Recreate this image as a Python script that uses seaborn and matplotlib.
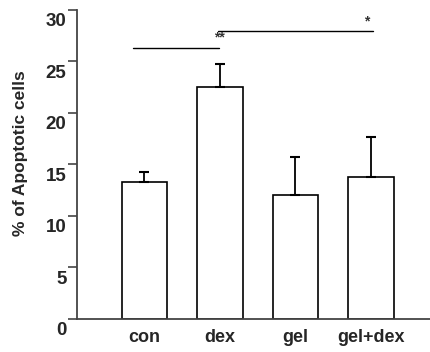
import matplotlib
matplotlib.use("Agg")
import matplotlib.pyplot as plt
import matplotlib.transforms as mtransforms
import seaborn as sns
import pandas as pd

# Data
groups = ["con", "dex", "gel", "gel+dex"]
means = [13.3, 22.5, 12.0, 13.8]
errs = [1.0, 2.2, 3.7, 3.9]

# significance brackets: (from, to, height, label, label x)
sig_lines = [(-0.15, 0.99, 26.3, "**", 0.99), (0.97, 3.03, 27.9, "*", 2.94)]

sns.set_style("white")
plt.rcParams["font.family"] = ["Liberation Sans", "DejaVu Sans"]

df = pd.DataFrame({"group": groups, "pct": means})

fig = plt.figure(figsize=(4.3, 3.52), dpi=100)
ax = fig.add_axes([0.179, 0.094, 0.821, 0.878])

sns.barplot(data=df, x="group", y="pct", color="white", edgecolor="black",
            linewidth=1.2, width=0.6, errorbar=None, ax=ax)
# upper error bars only
ax.errorbar(range(len(groups)), means, yerr=[[0] * len(errs), errs], fmt="none",
            ecolor="black", elinewidth=1.3, capsize=3.5, capthick=1.5)

for x0, x1, h, lab, lx in sig_lines:
    ax.plot([x0, x1], [h, h], color="black", lw=1)
    ax.text(lx, h + 0.3, lab, ha="center", va="bottom", fontsize=10,
            fontweight="bold", color="#333333")

ax.set_ylim(0, 30)
ax.set_xlim(-0.89, 3.78)
ax.set_yticks([0, 5, 10, 15, 20, 25, 30])
ax.set_xlabel("")
ax.set_ylabel("% of Apoptotic cells", fontsize=12.5, fontweight="bold")
ax.yaxis.set_label_coords(-0.14, 0.537)

for s in ["top", "right"]:
    ax.spines[s].set_visible(False)
for s in ["left", "bottom"]:
    ax.spines[s].set_color("#444444")
    ax.spines[s].set_linewidth(1.3)

ax.tick_params(axis="y", direction="out", length=6.5, width=1.2, color="#444444",
               left=True, pad=1, labelsize=13.5)
ax.tick_params(axis="x", length=0, pad=7, labelsize=13)
for lbl in ax.get_yticklabels() + ax.get_xticklabels():
    lbl.set_fontweight("bold")
# y tick labels sit a bit below their ticks in the original
offset = mtransforms.ScaledTranslation(0, -10 / 100, fig.dpi_scale_trans)
for lbl in ax.get_yticklabels():
    lbl.set_transform(lbl.get_transform() + offset)

fig.savefig("out.png", dpi=100)
